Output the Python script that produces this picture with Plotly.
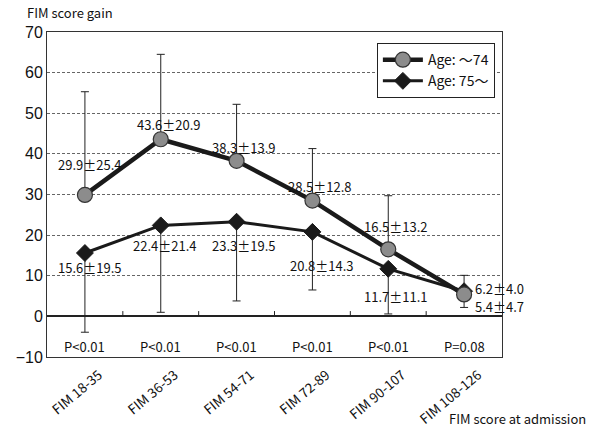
import plotly.graph_objects as go

categories = ["FIM 18-35", "FIM 36-53", "FIM 54-71", "FIM 72-89", "FIM 90-107", "FIM 108-126"]
young_mean = [29.9, 43.6, 38.3, 28.5, 16.5, 5.4]
young_sd = [25.4, 20.9, 13.9, 12.8, 13.2, 4.7]
old_mean = [15.6, 22.4, 23.3, 20.8, 11.7, 6.2]
old_sd = [19.5, 21.4, 19.5, 14.3, 11.1, 4.0]
p_values = ["P<0.01", "P<0.01", "P<0.01", "P<0.01", "P<0.01", "P=0.08"]
y_ticks = [-10, 0, 10, 20, 30, 40, 50, 60, 70]

# label offsets (pixels) relative to points
young_shift = [(5, 30, "center"), (8, 15, "center"), (7, 13, "center"), (8, 14, "center"), (8, 23, "center"), (9, -12, "left")]
old_shift = [(5, -14, "center"), (4, -20, "center"), (7, -24, "center"), (10, -34, "center"), (8, -28, "center"), (9, 3, "left")]

xs = list(range(len(categories)))
JP = "Noto Sans CJK JP, sans-serif"
DARK = "#1a1a1a"

fig = go.Figure()
fig.add_trace(go.Scatter(
    x=xs, y=old_mean, mode="lines+markers", name="Age: 75～",
    line=dict(color=DARK, width=3),
    marker=dict(symbol="diamond", size=13, color=DARK, line=dict(color=DARK, width=1)),
    error_y=dict(type="data", symmetric=False, array=[0] * len(xs), arrayminus=old_sd,
                 color="#222", thickness=1, width=4),
))
fig.add_trace(go.Scatter(
    x=xs, y=young_mean, mode="lines+markers", name="Age: ～74",
    line=dict(color=DARK, width=4.5),
    marker=dict(symbol="circle", size=15, color="#8c8c8c", line=dict(color="#333", width=1.2)),
    error_y=dict(type="data", symmetric=False, array=young_sd, arrayminus=[0] * len(xs),
                 color="#222", thickness=1, width=4),
))

annotations = []
for i in xs:
    dx, dy, anc = young_shift[i]
    annotations.append(dict(x=i, y=young_mean[i], text=f"{young_mean[i]}±{young_sd[i]}",
                            showarrow=False, xshift=dx, yshift=dy, xanchor=anc,
                            font=dict(family=JP, size=13, color="#111")))
    dx, dy, anc = old_shift[i]
    annotations.append(dict(x=i, y=old_mean[i], text=f"{old_mean[i]}±{old_sd[i]}",
                            showarrow=False, xshift=dx, yshift=dy, xanchor=anc,
                            font=dict(family=JP, size=13, color="#111")))
    annotations.append(dict(x=i, y=-7.5, text=p_values[i], showarrow=False,
                            font=dict(family=JP, size=13, color="#111")))

annotations.append(dict(xref="paper", yref="paper", x=-0.048, y=1.0, yshift=20, xanchor="left",
                        yanchor="middle", text="FIM score gain", showarrow=False,
                        font=dict(family=JP, size=13, color="#111")))
annotations.append(dict(xref="paper", yref="paper", x=1.189, y=0, yshift=-61, xanchor="right",
                        yanchor="middle", text="FIM score at admission", showarrow=False,
                        font=dict(family=JP, size=13, color="#111")))

shapes = []
for i in xs[:-1]:
    shapes.append(dict(type="line", xref="x", yref="y", x0=i + 0.5, x1=i + 0.5, y0=0, y1=1.3,
                       line=dict(color="#222", width=1)))

fig.update_layout(
    width=598, height=427,
    margin=dict(l=47, r=96, t=32, b=70, autoexpand=False),
    paper_bgcolor="white", plot_bgcolor="white",
    showlegend=True,
    legend=dict(x=0.725, y=0.966, xanchor="left", yanchor="top",
                bordercolor="#222", borderwidth=1, bgcolor="white",
                font=dict(family=JP, size=14, color="#111"),
                traceorder="reversed", itemwidth=40, tracegroupgap=4),
    annotations=annotations,
    shapes=shapes,
)
fig.update_xaxes(range=[-0.5, len(xs) - 0.5], tickmode="array", tickvals=xs, ticktext=categories,
                 tickangle=-40, showgrid=False, showline=True, mirror=True, automargin=False,
                 linecolor="#333", linewidth=1, ticks="", zeroline=False,
                 ticklabelshift=14, ticklabelstandoff=4,
                 tickfont=dict(family=JP, size=13.5, color="#111"))
fig.update_yaxes(range=[-10, 70], tickmode="array", tickvals=y_ticks, showgrid=True,
                 gridcolor="#666", griddash="3px,2px", gridwidth=1, automargin=False,
                 zeroline=True, zerolinecolor="#222", zerolinewidth=1.5,
                 showline=True, mirror=True, linecolor="#333", linewidth=1, ticks="",
                 tickfont=dict(family="Liberation Sans, Arial, sans-serif", size=16, color="#111"))

fig.write_html("out.html", config={"displayModeBar": False},
               post_script="document.body.style.margin='0';document.body.style.overflow='hidden';")
